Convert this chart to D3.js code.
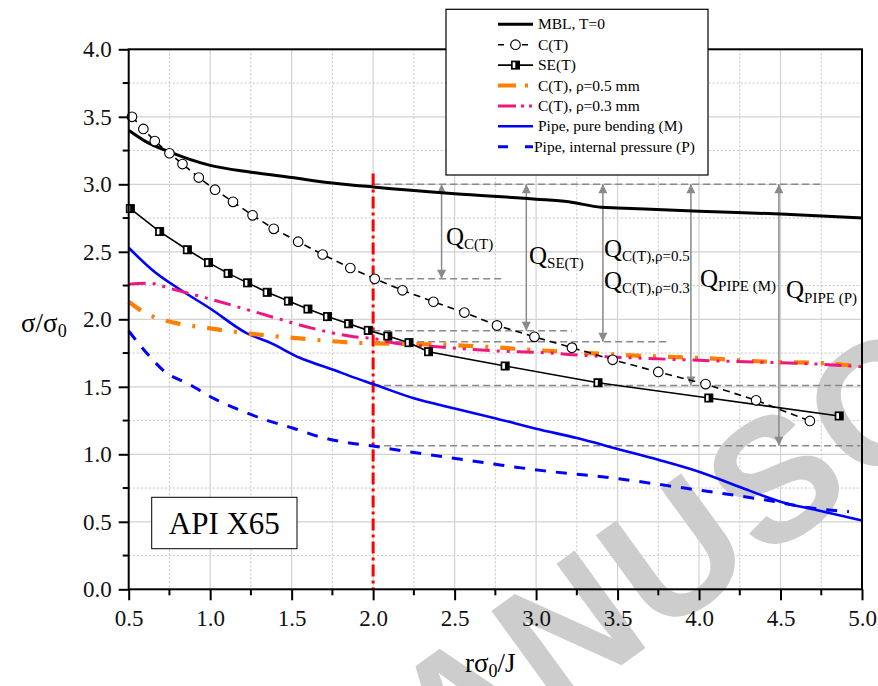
<!DOCTYPE html>
<html>
<head>
<meta charset="utf-8">
<script src="https://cdn.jsdelivr.net/npm/d3@7"></script>
<style>
  html, body { margin: 0; padding: 0; background: #fff; }
  svg { display: block; }
  text { font-family: "Liberation Serif", "Times New Roman", serif; }
</style>
</head>
<body>
<svg id="chart" width="878" height="686"></svg>
<script>
// ---- data ----
const xMBL = [0.5, 0.6, 0.75, 1.0, 1.25, 1.5, 1.75, 2.0, 2.5, 3.0, 3.2, 3.4, 3.5, 4.0, 4.5, 5.0];
const yMBL = [3.40, 3.32, 3.24, 3.14, 3.09, 3.05, 3.01, 2.98, 2.93, 2.89, 2.87, 2.83, 2.825, 2.80, 2.78, 2.75];

const xCT = [0.52, 0.59, 0.66, 0.75, 0.83, 0.93, 1.03, 1.14, 1.26, 1.39, 1.54, 1.69, 1.86, 2.01, 2.18, 2.37, 2.56, 2.76, 2.99, 3.22, 3.47, 3.75, 4.04, 4.35, 4.68];
const yCT = [3.50, 3.41, 3.32, 3.23, 3.15, 3.05, 2.96, 2.87, 2.77, 2.67, 2.575, 2.48, 2.38, 2.30, 2.215, 2.13, 2.05, 1.955, 1.87, 1.79, 1.70, 1.61, 1.52, 1.40, 1.247];

const xSE = [0.51, 0.69, 0.86, 0.99, 1.11, 1.23, 1.35, 1.48, 1.60, 1.72, 1.85, 1.97, 2.09, 2.22, 2.34, 2.81, 3.38, 4.06, 4.86];
const ySE = [2.82, 2.65, 2.515, 2.42, 2.34, 2.27, 2.20, 2.135, 2.076, 2.02, 1.967, 1.918, 1.876, 1.827, 1.76, 1.654, 1.53, 1.417, 1.284];

const xRho05 = [0.5, 0.57, 0.65, 0.82, 1.0, 1.22, 1.43, 1.59, 1.88, 2.0, 2.25, 2.64, 2.98, 3.35, 3.67, 4.05, 4.41, 4.78, 5.0];
const yRho05 = [2.13, 2.07, 2.02, 1.965, 1.933, 1.896, 1.871, 1.854, 1.827, 1.822, 1.817, 1.80, 1.773, 1.748, 1.728, 1.711, 1.686, 1.674, 1.649];

const xRho03 = [0.5, 0.63, 0.75, 0.96, 1.22, 1.41, 1.63, 1.88, 2.02, 2.12, 2.43, 2.74, 3.04, 3.35, 3.73, 4.18, 4.71, 5.0];
const yRho03 = [2.26, 2.267, 2.23, 2.163, 2.074, 2.007, 1.933, 1.871, 1.854, 1.827, 1.793, 1.767, 1.753, 1.728, 1.708, 1.689, 1.669, 1.649];

const xPipeM = [0.5, 0.65, 0.82, 1.0, 1.22, 1.37, 1.55, 1.76, 1.88, 2.0, 2.25, 2.5, 2.76, 3.0, 3.25, 3.5, 3.75, 4.0, 4.27, 4.5, 4.72, 5.0];
const yPipeM = [2.53, 2.36, 2.217, 2.08, 1.90, 1.825, 1.715, 1.624, 1.57, 1.52, 1.415, 1.34, 1.264, 1.19, 1.12, 1.04, 0.96, 0.871, 0.748, 0.649, 0.587, 0.51];

const xPipeP = [0.5, 0.64, 0.71, 0.88, 1.02, 1.18, 1.33, 1.51, 1.67, 1.84, 2.0, 2.12, 2.43, 2.74, 3.04, 3.43, 3.92, 4.41, 4.70, 4.92];
const yPipeP = [1.913, 1.71, 1.624, 1.513, 1.415, 1.328, 1.259, 1.193, 1.13, 1.086, 1.061, 1.037, 0.982, 0.928, 0.879, 0.83, 0.748, 0.661, 0.60, 0.575];

// reference ratio r·σ0/J = 2 and the resulting Q margins
const refX = 2.0;
const refTop = 3.08;
const guideY   = [3.0, 2.30, 1.915, 1.834, 1.51, 1.064];
const guideEnd = [4.76, 2.80, 3.22, 3.80, 4.99, 4.99];
const arrowX   = [2.42, 2.94, 3.41, 3.95, 4.49];
const arrowLow = [2.30, 1.915, 1.834, 1.51, 1.064];

const xTicks = [0.5, 1.0, 1.5, 2.0, 2.5, 3.0, 3.5, 4.0, 4.5, 5.0];
const yTicks = [0.0, 0.5, 1.0, 1.5, 2.0, 2.5, 3.0, 3.5, 4.0];

const legendLabels = ["MBL, T=0", "C(T)", "SE(T)", "C(T), \u03C1=0.5 mm", "C(T), \u03C1=0.3 mm",
                      "Pipe, pure bending (M)", "Pipe, internal pressure (P)"];

// ---- layout ----
const svg = d3.select("#chart");
const L = 128.7, R = 862, T = 49.3, B = 589.3;
const x = d3.scaleLinear().domain([0.5, 5.0]).range([L, R]);
const y = d3.scaleLinear().domain([0, 4.0]).range([B, T]);

const zip = (xs, ys) => xs.map((v, i) => [v, ys[i]]);

// grid: dotted minor, solid major
const g = svg.append("g");
d3.range(0.75, 5.0, 0.5).forEach(v => {
  g.append("line").attr("x1", x(v)).attr("x2", x(v)).attr("y1", T).attr("y2", B)
    .attr("stroke", "#c4c4c4").attr("stroke-dasharray", "2,2");
});
d3.range(0.25, 4.0, 0.5).forEach(v => {
  g.append("line").attr("x1", L).attr("x2", R).attr("y1", y(v)).attr("y2", y(v))
    .attr("stroke", "#c4c4c4").attr("stroke-dasharray", "2,2");
});
xTicks.slice(1, -1).forEach(v => {
  g.append("line").attr("x1", x(v)).attr("x2", x(v)).attr("y1", T).attr("y2", B)
    .attr("stroke", "#d2d2d2").attr("stroke-width", 1.2);
});
yTicks.slice(1, -1).forEach(v => {
  g.append("line").attr("x1", L).attr("x2", R).attr("y1", y(v)).attr("y2", y(v))
    .attr("stroke", "#d2d2d2").attr("stroke-width", 1.2);
});

// watermark
svg.append("text")
  .attr("transform", "translate(326,880) rotate(-36)")
  .style("font-family", "'Liberation Sans', Arial, sans-serif")
  .attr("font-weight", "bold").attr("font-size", 175)
  .attr("letter-spacing", 4)
  .attr("fill", "#cdcdcd")
  .text("MANUSCRIPT");

// Q guide lines and arrows
const gray = "#8a8a8a";
const ann = svg.append("g");
guideY.forEach((v, i) => {
  ann.append("line").attr("x1", x(refX)).attr("x2", x(guideEnd[i]))
    .attr("y1", y(v)).attr("y2", y(v))
    .attr("stroke", gray).attr("stroke-width", 1.5).attr("stroke-dasharray", "7,4");
});
const defs = svg.append("defs");
defs.append("marker").attr("id", "ah").attr("viewBox", "0 0 10 10")
  .attr("refX", 10).attr("refY", 5).attr("markerWidth", 16).attr("markerHeight", 9)
  .attr("markerUnits", "userSpaceOnUse").attr("orient", "auto-start-reverse")
  .append("path").attr("d", "M0,0 L10,5 L0,10 Z").attr("fill", gray);
arrowX.forEach((v, i) => {
  ann.append("line").attr("x1", x(v)).attr("x2", x(v))
    .attr("y1", y(guideY[0])).attr("y2", y(arrowLow[i]))
    .attr("stroke", gray).attr("stroke-width", 1.5)
    .attr("marker-start", "url(#ah)").attr("marker-end", "url(#ah)");
});

// Q labels
function qLabel(px, py, sub, subDy) {
  const t = svg.append("text").attr("x", px).attr("y", py).attr("font-size", 25).attr("fill", "#000");
  t.append("tspan").text("Q");
  t.append("tspan").attr("font-size", 15).attr("dy", subDy).text(sub);
}
qLabel(446, 245, "C(T)", 4);
qLabel(529, 264, "SE(T)", 4);
qLabel(604, 257, "C(T),\u03C1=0.5", 4);
qLabel(604, 289, "C(T),\u03C1=0.3", 4);
qLabel(700, 287, "PIPE (M)", 4);
qLabel(786, 298, "PIPE (P)", 5);

// reference vertical line at r·σ0/J = 2
svg.append("line").attr("x1", x(refX)).attr("x2", x(refX)).attr("y1", y(refTop)).attr("y2", B)
  .attr("stroke", "#ff0000").attr("stroke-width", 3).attr("stroke-dasharray", "12,4,3,4");

// series
const lineLin = d3.line().x(d => x(d[0])).y(d => y(d[1]));
const lineSmooth = d3.line().x(d => x(d[0])).y(d => y(d[1])).curve(d3.curveMonotoneX);
const plot = svg.append("g");

plot.append("path").datum(zip(xPipeP, yPipeP)).attr("d", lineSmooth)
  .attr("fill", "none").attr("stroke", "#0000ff").attr("stroke-width", 3).attr("stroke-dasharray", "11,10");
plot.append("path").datum(zip(xPipeM, yPipeM)).attr("d", lineSmooth)
  .attr("fill", "none").attr("stroke", "#0000ff").attr("stroke-width", 2.6);
plot.append("path").datum(zip(xRho05, yRho05)).attr("d", lineSmooth)
  .attr("fill", "none").attr("stroke", "#ff8000").attr("stroke-width", 4.2).attr("stroke-dasharray", "15,12,3,12");
plot.append("path").datum(zip(xRho03, yRho03)).attr("d", lineSmooth)
  .attr("fill", "none").attr("stroke", "#f0167f").attr("stroke-width", 3).attr("stroke-dasharray", "17,7,3,7,3,7");
plot.append("path").datum(zip(xMBL, yMBL)).attr("d", lineSmooth)
  .attr("fill", "none").attr("stroke", "#000").attr("stroke-width", 3);
plot.append("path").datum(zip(xSE, ySE)).attr("d", lineLin)
  .attr("fill", "none").attr("stroke", "#000").attr("stroke-width", 1.6);
plot.append("path").datum(zip(xCT, yCT)).attr("d", lineLin)
  .attr("fill", "none").attr("stroke", "#000").attr("stroke-width", 1.6).attr("stroke-dasharray", "7,5");

function seMarker(sel, cx, cy) {
  const s = 8;
  sel.append("rect").attr("x", cx - s / 2).attr("y", cy - s / 2).attr("width", s).attr("height", s)
    .attr("fill", "#000").attr("stroke", "#000").attr("stroke-width", 1);
  sel.append("rect").attr("x", cx - s / 2 + 1.2).attr("y", cy - s / 2 + 1.2).attr("width", 2.6).attr("height", s - 2.4)
    .attr("fill", "#fff");
}
function ctMarker(sel, cx, cy) {
  sel.append("circle").attr("cx", cx).attr("cy", cy).attr("r", 4.8)
    .attr("fill", "#fff").attr("stroke", "#000").attr("stroke-width", 1.1);
}
zip(xSE, ySE).forEach(d => seMarker(plot, x(d[0]), y(d[1])));
zip(xCT, yCT).forEach(d => ctMarker(plot, x(d[0]), y(d[1])));

// frame and axes
svg.append("rect").attr("x", L).attr("y", T).attr("width", R - L).attr("height", B - T)
  .attr("fill", "none").attr("stroke", "#000").attr("stroke-width", 2);

const xAxis = svg.append("g").attr("transform", `translate(0,${B})`)
  .call(d3.axisBottom(x).tickValues(xTicks).tickFormat(d3.format(".1f")).tickSize(11).tickPadding(9));
const yAxis = svg.append("g").attr("transform", `translate(${L},0)`)
  .call(d3.axisLeft(y).tickValues(yTicks).tickFormat(d3.format(".1f")).tickSize(10).tickPadding(7));
[xAxis, yAxis].forEach(a => {
  a.select(".domain").remove();
  a.selectAll(".tick line").attr("stroke", "#000").attr("stroke-width", 2);
  a.selectAll(".tick text").attr("font-size", 23).attr("fill", "#111")
    .style("font-family", "'Liberation Serif', 'Times New Roman', serif");
});
// minor ticks
d3.range(0.75, 5.0, 0.5).forEach(v => {
  svg.append("line").attr("x1", x(v)).attr("x2", x(v)).attr("y1", B).attr("y2", B + 6)
    .attr("stroke", "#000").attr("stroke-width", 2);
});
d3.range(0.25, 4.0, 0.5).forEach(v => {
  svg.append("line").attr("x1", L - 6).attr("x2", L).attr("y1", y(v)).attr("y2", y(v))
    .attr("stroke", "#000").attr("stroke-width", 2);
});

// axis titles
const xt = svg.append("text").attr("x", 465).attr("y", 672).attr("font-size", 27);
xt.append("tspan").text("r\u03C3");
xt.append("tspan").attr("font-size", 18).attr("dy", 5).text("0");
xt.append("tspan").attr("dy", -5).text("/J");
const yt = svg.append("text").attr("x", 21).attr("y", 332).attr("font-size", 27);
yt.append("tspan").text("\u03C3/\u03C3");
yt.append("tspan").attr("font-size", 18).attr("dy", 5).text("0");

// material label
svg.append("rect").attr("x", 151.7).attr("y", 497.3).attr("width", 145.3).attr("height", 51.4)
  .attr("fill", "#fff").attr("stroke", "#000").attr("stroke-width", 1);
svg.append("text").attr("x", 224.3).attr("y", 534).attr("text-anchor", "middle")
  .attr("font-size", 31).text("API X65");

// legend
const lg = svg.append("g");
lg.append("rect").attr("x", 446).attr("y", 9.3).attr("width", 262).attr("height", 165.7)
  .attr("fill", "#fff").attr("stroke", "#000").attr("stroke-width", 1.2);
const rowY = i => 24.3 + i * 20.4;
const sx0 = 498, sx1 = 533;
const styles = [
  { c: "#000", w: 3, d: null },
  { c: "#000", w: 1.6, d: "6,6" },
  { c: "#000", w: 1.6, d: null },
  { c: "#ff8000", w: 4.2, d: "18,9,3,20" },
  { c: "#f0167f", w: 3, d: "18,5,3,5,3,20" },
  { c: "#0000ff", w: 2.6, d: null },
  { c: "#0000ff", w: 3, d: "10,17,10" }
];
legendLabels.forEach((lab, i) => {
  const ly = rowY(i);
  const st = styles[i];
  const ln = lg.append("line").attr("x1", sx0).attr("x2", sx1).attr("y1", ly).attr("y2", ly)
    .attr("stroke", st.c).attr("stroke-width", st.w);
  if (st.d) ln.attr("stroke-dasharray", st.d);
  if (i === 1) ctMarker(lg, (sx0 + sx1) / 2, ly);
  if (i === 2) seMarker(lg, (sx0 + sx1) / 2, ly);
  lg.append("text").attr("x", i === 6 ? 534 : 538).attr("y", ly + 5).attr("font-size", 15.5).text(lab);
});
</script>
</body>
</html>
